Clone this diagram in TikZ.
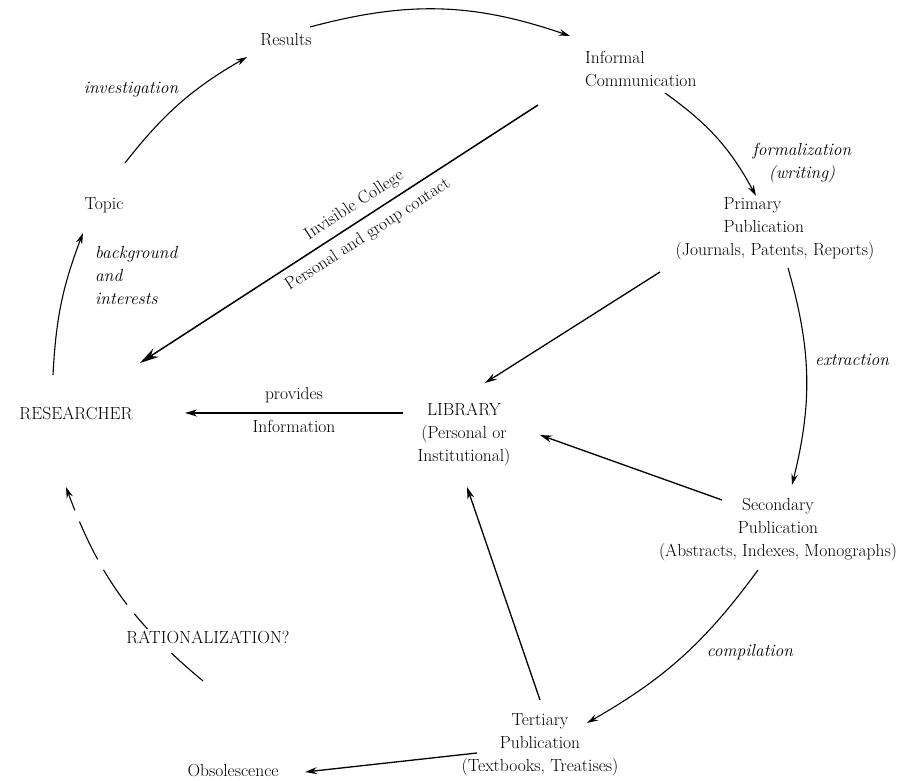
\documentclass[tikz,border=0pt]{standalone}
\usetikzlibrary{arrows.meta}
\begin{document}
\begin{tikzpicture}[x=1pt,y=1pt,
  every node/.style={font=\fontsize{17.5}{23}\selectfont, inner sep=0pt},
  lbl/.style={font=\fontsize{17.5}{23}\selectfont\itshape},
  arc/.style={line width=1.1pt, -{Stealth[length=11pt,width=6.5pt]}},
  straight/.style={line width=1.3pt, -{Stealth[length=12pt,width=7pt]}},
  big/.style={line width=1.5pt, {Stealth[length=19pt,width=10pt]}-},
  dashedarc/.style={line width=1.1pt, dash pattern=on 42pt off 12pt, -{Stealth[length=11pt,width=6.5pt]}}
]
\useasboundingbox (0,0) rectangle (916,781);

% main nodes
\node (res) at (76,368) {RESEARCHER};
\node (lib) [align=center] at (464,346) {LIBRARY\\(Personal or\\Institutional)};
\node (topic) at (104,576) {Topic};
\node (results) at (286,741) {Results};
\node (inf) [anchor=west, align=left] at (585,711.5) {Informal\\Communication};
\node (prim) [align=left] at (775,552) {\hspace*{48pt}Primary\\\hspace*{48pt}Publication\\(Journals, Patents, Reports)};
\node (sec) [align=center] at (778,251) {Secondary\\Publication\\(Abstracts, Indexes, Monographs)};
\node (tert) [align=center] at (540,36) {Tertiary\\Publication\\(Textbooks, Treatises)};
\node (obs) at (233,10) {Obsolescence};

% italic labels
\node[lbl] (inv) at (131,691) {investigation};
\node[lbl, anchor=west, align=left] (bg) at (95,505) {background\\and\\interests};
\node[lbl, align=center] (form) at (802,618) {formalization\\(writing)};
\node[lbl] (ext) at (852,421) {extraction};
\node[lbl] (comp) at (750,129) {compilation};

% cycle arcs
\draw[arc] ([shift={(-23,38)}]res.center) to[bend left=9] ([shift={(-21,-28)}]topic.center);
\draw[arc] ([shift={(21,42)}]topic.center) to[bend left=11] ([shift={(-39,-17)}]results.center);
\draw[arc] ([shift={(24,13)}]results.center) to[bend left=17] ([shift={(-15,33.5)}]inf.west);
\draw[arc] ([shift={(80,-23.5)}]inf.west) to[bend left=13] ([shift={(-19,33)}]prim.center);
\draw[arc] ([shift={(13,-39)}]prim.center) to[bend left=15] ([shift={(14,45)}]sec.center);
\draw[arc] ([shift={(-20,-40)}]sec.center) to[bend left=12] ([shift={(47,22)}]tert.center);

% straight arrows to library
\draw[straight] ([shift={(-115,-43)}]prim.center) -- ([shift={(21,52)}]lib.center);
\draw[straight] ([shift={(-56,30)}]sec.center) -- ([shift={(76,0)}]lib.center);
\draw[straight] ([shift={(0,45)}]tert.center) -- ([shift={(3,-52)}]lib.center);
\draw[straight] ([shift={(-63,-8)}]tert.center) -- ([shift={(72,-1)}]obs.center);

% library to researcher
\draw[straight] ([shift={(-61,22)}]lib.center) -- ([shift={(109,0)}]res.center)
  node[midway, above=9pt] {provides}
  node[midway, below=7pt] {Information};

% invisible college
\draw[big] ([shift={(64,50)}]res.center) -- ([shift={(-47,-35.5)}]inf.west)
  node[pos=0.56, sloped, above=7pt] {Invisible College}
  node[pos=0.55, sloped, below=8pt] {Personal and group contact};

% rationalization
\coordinate (ratstart) at (203,100);
\draw[dashedarc] (ratstart) to[bend left=15] ([shift={(-10,-74)}]res.center);
\node[fill=white, inner sep=2pt] (rat) at (208,144) {RATIONALIZATION?};
\end{tikzpicture}
\end{document}
